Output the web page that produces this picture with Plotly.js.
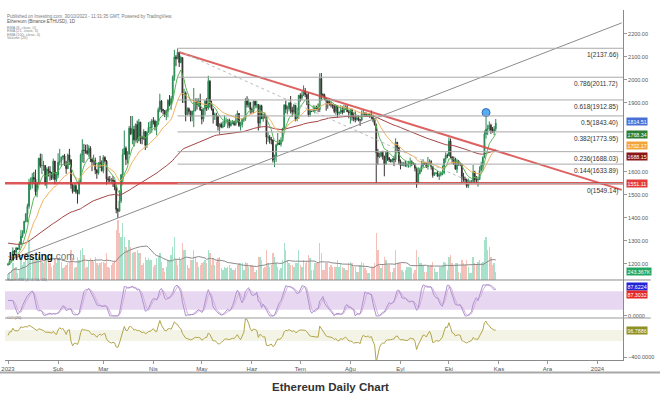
<!DOCTYPE html>
<html><head><meta charset="utf-8">
<script src="https://cdn.plot.ly/plotly-3.0.1.min.js"></script>
<style>html,body{margin:0;padding:0;background:#fff}#chart{width:660px;height:398px}</style>
</head><body><div id="chart"></div>
<script>
// ---------- DATA (daily, 2023-01-01 .. 2023-10-30) ----------
const startYear = 2023;
const firstOpen = 1196;
const closes = [
1200,1214,1214,1256,1251,1269,1264,1287,1321,1336,1384,1417,1451,1550,1552,1576,1568,1514,1552,1659,1627,1628,1628,1556,1612,1603,1597,1572,1647,1567,1586,
1642,1646,1664,1669,1631,1614,1674,1652,1544,1515,1540,1515,1506,1556,1674,1694,1693,1692,1681,1703,1656,1643,1650,1608,1595,1640,1634,1605,
1663,1647,1569,1566,1564,1565,1560,1534,1437,1429,1474,1588,1676,1703,1654,1677,1790,1766,1785,1739,1806,1736,1816,1751,1745,1776,1716,1773,1793,1793,1822,
1820,1796,1809,1870,1908,1872,1867,1848,1863,1911,1893,1919,2012,2100,2092,2120,2076,2097,1937,1943,1849,1875,1863,1841,1865,1865,1907,1893,1907,1870,
1830,1873,1907,1878,1994,1897,1874,1847,1848,1842,1797,1808,1795,1800,1823,1823,1823,1801,1813,1818,1806,1819,1854,1802,1806,1829,1830,1909,1892,1901,1872,
1863,1907,1891,1893,1812,1888,1831,1847,1839,1751,1752,1741,1739,1651,1667,1717,1726,1720,1736,1789,1890,1873,1875,1900,1870,1860,1890,1829,1848,1933,
1922,1935,1953,1937,1910,1849,1868,1863,1866,1880,1878,1871,2006,1937,1933,1921,1910,1898,1895,1891,1890,1863,1889,1855,1859,1868,1859,1875,1882,1862,1856,
1870,1839,1834,1828,1835,1826,1826,1853,1855,1850,1848,1850,1843,1843,1826,1806,1683,1666,1669,1685,1667,1634,1684,1662,1652,1644,1656,1653,1729,1706,1646,
1628,1636,1636,1629,1633,1634,1644,1636,1634,1616,1551,1593,1609,1626,1641,1636,1623,1639,1645,1623,1585,1594,1594,1581,1587,1593,1596,1656,1672,1670,
1734,1665,1655,1647,1612,1648,1633,1633,1580,1567,1566,1539,1552,1556,1558,1600,1566,1565,1567,1606,1628,1662,1765,1786,1787,1803,1782,1775,1787,1812];
const highs = [
1203,1220,1219,1272,1260,1274,1270,1297,1348,1346,1388,1421,1462,1570,1576,1595,1600,1610,1555,1662,1680,1678,1648,1630,1620,1624,1625,1600,1658,1648,1600,
1681,1700,1667,1673,1678,1648,1680,1700,1656,1548,1546,1546,1523,1565,1680,1742,1722,1718,1720,1716,1712,1662,1675,1662,1612,1642,1670,1650,
1673,1668,1652,1580,1582,1574,1582,1565,1540,1443,1520,1590,1700,1780,1711,1690,1800,1843,1843,1800,1811,1823,1830,1818,1757,1786,1778,1777,1816,1820,1830,
1838,1827,1822,1880,1940,1912,1874,1868,1872,1916,1934,1930,2020,2131,2108,2137,2120,2105,2098,1962,1950,1881,1880,1867,1865,1965,1920,1920,1920,1940,
1874,1878,1913,1921,2018,2000,1910,1875,1858,1857,1843,1811,1815,1820,1846,1836,1830,1832,1824,1825,1823,1850,1867,1856,1818,1834,1838,1921,1929,1918,1905,
1880,1910,1910,1909,1894,1893,1892,1852,1858,1840,1775,1760,1752,1741,1675,1722,1769,1740,1750,1792,1895,1910,1888,1904,1930,1883,1896,1891,1880,1935,
1942,1950,1976,1965,1941,1945,1874,1872,1889,1889,1888,1897,2029,2030,1942,1940,1917,1911,1911,1906,1895,1893,1892,1890,1862,1890,1885,1892,1890,1890,1870,
1871,1875,1855,1863,1842,1846,1830,1867,1870,1860,1858,1855,1854,1867,1847,1830,1810,1700,1684,1690,1692,1671,1690,1693,1664,1656,1660,1667,1746,1728,1706,
1654,1644,1644,1649,1642,1648,1662,1650,1642,1637,1620,1620,1618,1648,1655,1644,1640,1665,1655,1651,1625,1599,1600,1604,1596,1602,1628,1660,1685,1680,
1750,1745,1668,1667,1662,1657,1650,1640,1636,1596,1579,1571,1571,1565,1565,1630,1605,1582,1580,1624,1644,1668,1780,1840,1805,1820,1810,1795,1800,1830];
const lows = [
1192,1195,1205,1212,1240,1236,1260,1262,1284,1313,1331,1380,1381,1440,1522,1528,1547,1496,1490,1545,1618,1590,1605,1540,1528,1580,1562,1565,1565,1546,1557,
1573,1628,1622,1653,1626,1592,1615,1630,1527,1506,1515,1505,1462,1501,1553,1641,1639,1679,1674,1666,1643,1603,1626,1590,1570,1588,1617,1602,
1594,1641,1545,1555,1555,1550,1535,1520,1420,1400,1427,1465,1550,1690,1630,1636,1676,1760,1720,1710,1735,1725,1732,1722,1720,1738,1695,1704,1770,1766,1770,
1806,1780,1759,1804,1860,1858,1850,1838,1825,1837,1885,1870,1905,1996,2060,2090,2056,2072,1900,1900,1820,1845,1850,1819,1820,1795,1878,1871,1883,1865,
1807,1818,1848,1865,1870,1880,1867,1810,1826,1800,1780,1765,1790,1790,1795,1810,1790,1790,1797,1807,1800,1800,1814,1795,1780,1793,1817,1822,1880,1880,1853,
1854,1855,1880,1880,1780,1795,1830,1818,1832,1720,1730,1723,1720,1641,1621,1643,1715,1718,1710,1731,1782,1855,1850,1863,1854,1840,1856,1820,1820,1830,
1906,1912,1930,1925,1890,1840,1840,1860,1860,1854,1867,1860,1860,1910,1927,1912,1866,1875,1888,1880,1875,1855,1848,1836,1846,1852,1850,1856,1870,1860,1833,
1810,1823,1820,1815,1822,1820,1800,1820,1846,1840,1840,1844,1835,1830,1816,1801,1550,1630,1660,1663,1653,1581,1631,1648,1643,1641,1642,1625,1642,1690,1632,
1611,1627,1624,1622,1620,1618,1620,1625,1630,1602,1531,1547,1589,1600,1620,1630,1617,1610,1632,1610,1575,1583,1590,1580,1565,1580,1585,1589,1640,1660,
1669,1659,1636,1630,1610,1596,1627,1625,1551,1557,1550,1531,1530,1551,1547,1553,1552,1550,1536,1565,1602,1610,1660,1745,1760,1778,1765,1770,1760,1777];
const volumesK = [
180,250,300,500,350,400,220,300,600,450,550,650,800,1200,700,650,600,800,600,700,650,550,500,600,750,550,500,400,450,650,500,
650,700,550,350,400,450,500,550,900,650,350,400,700,600,900,950,750,350,400,600,650,600,550,700,500,450,500,550,
550,500,800,400,350,450,500,600,1500,1800,1400,1300,1700,1300,1000,900,1200,1000,800,850,850,900,800,800,450,500,700,600,650,600,600,
400,450,650,700,800,550,350,250,400,600,600,750,1000,1300,600,450,700,600,1100,900,900,450,350,600,600,900,700,550,400,450,
500,550,600,500,900,800,450,650,450,550,650,700,350,300,400,350,400,450,350,300,300,350,450,500,500,500,300,550,500,400,450,
450,400,250,300,700,700,600,350,400,900,500,400,450,800,700,500,400,300,350,600,1100,900,600,500,450,450,400,500,500,900,
450,400,600,500,550,750,650,300,300,500,500,500,1100,800,300,300,500,500,400,450,400,400,400,600,400,500,400,350,300,300,500,
550,500,400,400,250,250,450,550,500,350,300,200,200,350,400,500,1400,900,450,350,450,700,600,450,450,250,250,350,900,500,500,
500,300,250,300,400,400,400,350,200,300,900,700,500,500,450,250,250,450,400,450,550,350,250,250,400,400,450,550,500,300,
700,750,500,450,500,500,250,200,600,500,450,600,400,200,200,700,500,450,550,600,500,550,1200,1300,900,1000,700,450,500,243];
const ema8Seed = 1205, ema21Seed = 1235, ema100Seed = 1292;

// Fibonacci retracement
const fibStartDate = '2023-04-16';
const fibRatios = [1, 0.786, 0.618, 0.5, 0.382, 0.236, 0.144, 0];
const fibPrices = [2137.66, 2011.72, 1912.85, 1843.40, 1773.95, 1688.03, 1633.89, 1549.14];
const supportLevel = 1551.11;

// Drawn trend lines
const downTrendDates = ['2023-04-17', '2024-01-16'];
const downTrendPrices = [2120, 1522];
const upTrendDates = ['2023-01-02', '2024-01-16'];
const upTrendPrices = [1217, 2248];
const dottedDates = ['2023-04-17', '2023-10-10'];
const dottedPrices = [2125, 1570];
const alertDate = ['2023-10-24'];
const alertPrice = [1858];

// Right-side value labels
const priceTagValues = [1814.51, 1768.34, 1702.17, 1688.15, 1551.11];
const priceTagColors = ['#4a6fd4', '#2e7d32', '#f3a43a', '#8e1515', '#e23b3b'];
const priceTagShift = [1, -1, 2.5, -4.5, 0];
const volumeTag = 243.367;
const stochTags = [87.6224, 87.3032];
const cciTag = 96.7886;

// Axis ticks (1700/1800 and CCI 0 are hidden behind value tags in the reference)
const priceTicks = [1200,1300,1400,1500,1600,1900,2000,2100,2200];
const monthTicks = ['2023-01-01','2023-02-01','2023-03-01','2023-04-01','2023-05-01','2023-06-01','2023-07-01','2023-08-01','2023-09-01','2023-10-01','2023-11-01','2023-12-01','2024-01-01'];
const monthLabels = ['2023','Şub','Mar','Nis','May','Haz','Tem','Ağu','Eyl','Eki','Kas','Ara','2024'];
const xStart = '2022-12-30 03:00';
const xEnd = '2024-01-16 19:00';

// ---------- DERIVED ----------
const dates = closes.map((_, i) => new Date(Date.UTC(startYear, 0, 1 + i)).toISOString().slice(0, 10));
const opens = closes.map((c, i) => i === 0 ? firstOpen : closes[i - 1]);
function ema(src, n, seed) { const k = 2 / (n + 1); let p = seed; return src.map(v => (p = v * k + p * (1 - k))); }
const ema8 = ema(closes, 8, ema8Seed), ema21 = ema(closes, 21, ema21Seed), ema100 = ema(closes, 100, ema100Seed);
function sma(src, n) { return src.map((_, i) => { const s = src.slice(Math.max(0, i - n + 1), i + 1); return s.reduce((a, b) => a + b, 0) / s.length; }); }
// RSI(14)
let ag = 0, al = 0; const rsi = closes.map((c, i) => {
  const ch = c - opens[i]; const g = Math.max(ch, 0), l = Math.max(-ch, 0);
  if (i === 0) { ag = g; al = l; } else { ag = (ag * 13 + g) / 14; al = (al * 13 + l) / 14; }
  return al === 0 ? 100 : 100 - 100 / (1 + ag / al);
});
const stochRaw = rsi.map((r, i) => { const w = rsi.slice(Math.max(0, i - 13), i + 1); const mx = Math.max(...w), mn = Math.min(...w); return mx === mn ? 50 : (r - mn) / (mx - mn) * 100; });
const stochK = sma(stochRaw, 3), stochD = sma(stochK, 3);
const tp = closes.map((c, i) => (c + highs[i] + lows[i]) / 3);
const tpMa = sma(tp, 20);
const cci = tp.map((t, i) => { const w = tp.slice(Math.max(0, i - 19), i + 1); const md = w.reduce((a, b) => a + Math.abs(b - tpMa[i]), 0) / w.length; return md === 0 ? 0 : (t - tpMa[i]) / (0.015 * md); });
const volMa = sma(volumesK, 20);
const volColors = closes.map((c, i) => c >= opens[i] ? 'rgba(110,205,165,0.6)' : 'rgba(240,150,140,0.6)');

// ---------- TRACES ----------
const traces = [
  {type: 'bar', x: dates, y: volumesK, xaxis: 'x', yaxis: 'y', marker: {color: volColors, line: {width: 0}}, width: 86400000 * 0.85, hoverinfo: 'skip'},
  {type: 'scatter', mode: 'lines', x: dates, y: volMa, xaxis: 'x', yaxis: 'y', line: {color: '#8a8a8a', width: 1}, hoverinfo: 'skip'},
  {type: 'scatter', mode: 'lines', x: dates, y: ema100, xaxis: 'x', yaxis: 'y2', line: {color: '#a34545', width: 1}, hoverinfo: 'skip'},
  {type: 'scatter', mode: 'lines', x: dates, y: ema21, xaxis: 'x', yaxis: 'y2', line: {color: '#f2b35c', width: 1}, hoverinfo: 'skip'},
  {type: 'scatter', mode: 'lines', x: dates, y: ema8, xaxis: 'x', yaxis: 'y2', line: {color: '#5cb85c', width: 1}, hoverinfo: 'skip'},
  {type: 'candlestick', x: dates, open: opens, high: highs, low: lows, close: closes, xaxis: 'x', yaxis: 'y2', whiskerwidth: 0,
   increasing: {line: {color: '#2a8a55', width: 1}, fillcolor: '#2a8a55'},
   decreasing: {line: {color: '#3a3030', width: 1}, fillcolor: '#3a3030'}, hoverinfo: 'skip'},
  {type: 'scatter', mode: 'lines', x: downTrendDates, y: downTrendPrices, xaxis: 'x', yaxis: 'y2', line: {color: 'rgba(215,70,70,0.85)', width: 2}, hoverinfo: 'skip'},
  {type: 'scatter', mode: 'lines', x: upTrendDates, y: upTrendPrices, xaxis: 'x', yaxis: 'y2', line: {color: '#8c8c8c', width: 1}, hoverinfo: 'skip'},
  {type: 'scatter', mode: 'lines', x: dottedDates, y: dottedPrices, xaxis: 'x', yaxis: 'y2', line: {color: '#bdbdbd', width: 1, dash: 'dot'}, hoverinfo: 'skip'},
  {type: 'scatter', mode: 'markers', x: alertDate, y: alertPrice, xaxis: 'x', yaxis: 'y2', marker: {size: 8, color: '#5aaaf0', line: {color: '#2d6fb8', width: 1}}, hoverinfo: 'skip'},
  {type: 'scatter', mode: 'lines', x: dates, y: stochD, xaxis: 'x', yaxis: 'y3', line: {color: '#d6b0da', width: 1}, hoverinfo: 'skip'},
  {type: 'scatter', mode: 'lines', x: dates, y: stochK, xaxis: 'x', yaxis: 'y3', line: {color: '#ab93cf', width: 1}, hoverinfo: 'skip'},
  {type: 'scatter', mode: 'lines', x: dates, y: cci, xaxis: 'x', yaxis: 'y4', line: {color: '#b3a54a', width: 1}, hoverinfo: 'skip'}
];

// ---------- LAYOUT ----------
const shapes = [
  {type: 'rect', xref: 'paper', x0: 0, x1: 1, yref: 'y3', y0: 20, y1: 80, fillcolor: 'rgba(190,140,215,0.35)', line: {width: 0}, layer: 'below'},
  {type: 'rect', xref: 'paper', x0: 0, x1: 1, yref: 'y4', y0: -100, y1: 100, fillcolor: 'rgba(200,200,130,0.2)', line: {width: 0}, layer: 'below'},
  {type: 'line', xref: 'paper', x0: 0, x1: 1.045, yref: 'paper', y0: 0.2286, y1: 0.2286, line: {color: '#8a8a8a', width: 1}},
  {type: 'line', xref: 'paper', x0: 0, x1: 1.045, yref: 'paper', y0: 0.12, y1: 0.12, line: {color: '#9a9a9a', width: 1}},
  {type: 'line', xref: 'paper', x0: -0.0081, x1: 1.0599, yref: 'paper', y0: -0.0357, y1: -0.0357, line: {color: '#a8a8a8', width: 2}},
  {type: 'line', xref: 'paper', x0: 0, x1: 1, yref: 'y2', y0: supportLevel, y1: supportLevel, line: {color: 'rgba(214,60,60,0.85)', width: 2.5}}
];
fibPrices.forEach(p => shapes.push({type: 'line', xref: 'x', x0: fibStartDate, x1: xEnd, yref: 'y2', y0: p, y1: p, line: {color: '#a9a9a9', width: 1}}));

const annotations = [];
fibPrices.forEach((p, i) => annotations.push({xref: 'paper', x: 0.9952, xanchor: 'right', yref: 'y2', y: p, yanchor: 'top', yshift: -1,
  text: String(fibRatios[i]) + '(' + p.toFixed(2) + ')', showarrow: false, font: {size: 6.5, color: '#333'}}));
priceTagValues.forEach((v, i) => annotations.push({xref: 'paper', x: 1, xanchor: 'left', xshift: 3, yref: 'y2', y: v, yshift: priceTagShift[i],
  text: v.toFixed(2), showarrow: false, bgcolor: priceTagColors[i], borderpad: 0.5, font: {size: 5.3, color: '#fff'}}));
annotations.push({xref: 'paper', x: 1, xanchor: 'left', xshift: 3, yref: 'y', y: volumeTag, text: volumeTag.toFixed(3) + 'K', showarrow: false, bgcolor: '#23a765', borderpad: 0.5, font: {size: 5.3, color: '#fff'}});
annotations.push({xref: 'paper', x: 1, xanchor: 'left', xshift: 3, yref: 'y3', y: stochTags[0], yshift: 2, text: stochTags[0].toFixed(4), showarrow: false, bgcolor: '#2323d8', borderpad: 0.5, font: {size: 5.3, color: '#fff'}});
annotations.push({xref: 'paper', x: 1, xanchor: 'left', xshift: 3, yref: 'y3', y: stochTags[1], yshift: -6, text: stochTags[1].toFixed(4), showarrow: false, bgcolor: '#e42828', borderpad: 0.5, font: {size: 5.3, color: '#fff'}});
annotations.push({xref: 'paper', x: 1, xanchor: 'left', xshift: 3, yref: 'y4', y: cciTag, text: cciTag.toFixed(4), showarrow: false, bgcolor: '#8f8f22', borderpad: 0.5, font: {size: 5.3, color: '#fff'}});
// header texts
annotations.push({xref: 'paper', x: 0, xanchor: 'left', yref: 'paper', y: 0.994, text: 'Published on Investing.com, 30/10/2023 - 11:31:35 GMT, Powered by TradingView.', showarrow: false, font: {size: 4.5, color: '#777'}});
annotations.push({xref: 'paper', x: 0, xanchor: 'left', yref: 'paper', y: 0.981, text: 'Ethereum (Binance:ETHUSD), 1D', showarrow: false, font: {size: 4.5, color: '#555'}});
['EMA (8, close, 0)', 'EMA (21, close, 0)', 'EMA (100, close, 0)', 'Volume (20)'].forEach((t, i) =>
  annotations.push({xref: 'paper', x: 0, xanchor: 'left', yref: 'paper', y: 0.96 - i * 0.0095, text: t, showarrow: false, font: {size: 3.8, color: '#888'}}));
annotations.push({xref: 'paper', x: 0, xanchor: 'left', yref: 'paper', y: 0.218, text: 'Stoch RSI (3, 3, 14, 14)', showarrow: false, font: {size: 3.8, color: '#777'}});
annotations.push({xref: 'paper', x: 0, xanchor: 'left', yref: 'paper', y: 0.109, text: 'CCI (20)', showarrow: false, font: {size: 3.8, color: '#777'}});
annotations.push({xref: 'paper', x: 0.003, xanchor: 'left', yref: 'paper', y: 0.274, text: '<b>Investing</b><span style="color:#777">.com</span>', showarrow: false, font: {size: 10, color: '#111', family: 'Liberation Sans'}});
// bottom caption
annotations.push({xref: 'paper', x: (330 - 5) / 618, xanchor: 'center', yref: 'paper', y: -0.077, yanchor: 'middle', text: '<b>Ethereum Daily Chart</b>', showarrow: false, font: {size: 11.5, color: '#333', family: 'Liberation Sans'}});

const axisTickFont = {size: 5.5, color: '#555'};
const layout = {
  width: 660, height: 398, margin: {l: 5, r: 37, t: 10, b: 38},
  paper_bgcolor: '#fff', plot_bgcolor: '#fff', showlegend: false, hovermode: false,
  font: {family: 'Liberation Sans', color: '#444'},
  bargap: 0,
  xaxis: {type: 'date', range: [xStart, xEnd], anchor: 'y4', tickvals: monthTicks, ticktext: monthLabels,
    tickfont: {size: 6, color: '#555'}, ticks: 'outside', ticklen: 3, tickcolor: '#999', showline: true, linecolor: '#8a8a8a',
    showgrid: false, zeroline: false, rangeslider: {visible: false}},
  yaxis: {domain: [0.2286, 1], range: [0, 8100], visible: false, anchor: 'x'},
  yaxis2: {overlaying: 'y', anchor: 'x', side: 'right', range: [1130, 2304], tickvals: priceTicks, tickformat: '.2f',
    tickfont: axisTickFont, ticks: 'outside', ticklen: 3, tickcolor: '#999', showline: true, linecolor: '#8a8a8a', showgrid: false, zeroline: false},
  yaxis3: {domain: [0.12, 0.2286], anchor: 'x', side: 'right', range: [-6.5, 116], tickvals: [0], tickformat: '.4f',
    tickfont: axisTickFont, ticks: 'outside', ticklen: 3, tickcolor: '#999', showline: true, linecolor: '#8a8a8a', showgrid: false, zeroline: false},
  yaxis4: {domain: [0, 0.12], anchor: 'x', side: 'right', range: [-450, 320], tickvals: [-400], tickformat: '.4f',
    tickfont: axisTickFont, ticks: 'outside', ticklen: 3, tickcolor: '#999', showline: true, linecolor: '#8a8a8a', showgrid: false, zeroline: false},
  shapes: shapes, annotations: annotations
};
Plotly.newPlot('chart', traces, layout, {staticPlot: true, displayModeBar: false});
</script>
</body></html>
